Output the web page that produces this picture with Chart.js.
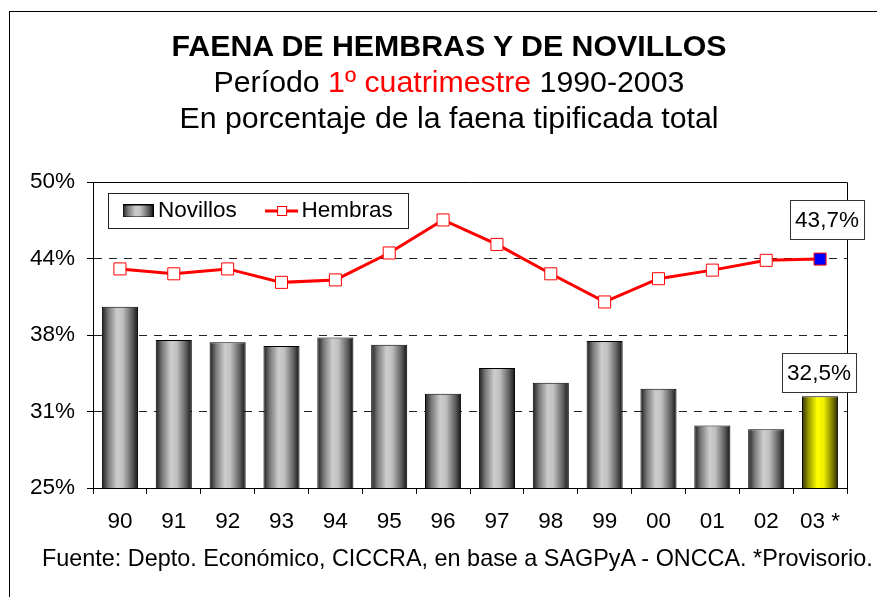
<!DOCTYPE html>
<html>
<head>
<meta charset="utf-8">
<script src="https://cdn.jsdelivr.net/npm/chart.js@4/dist/chart.umd.min.js"></script>
<style>
  body { margin: 0; background: #fff; }
  #wrap { position: relative; width: 877px; height: 597px; overflow: hidden; background: #fff;
          font-family: "Liberation Sans", Arial, sans-serif; color: #000; }
  #frame { position: absolute; left: 9px; top: 11px; width: 1000px; height: 1000px;
           border-left: 1px solid #000; border-top: 1px solid #000; }
  #chart { position: absolute; left: 0; top: 0; }
  #title { position: absolute; left: 0; top: 28px; width: 898px; text-align: center;
           font-size: 30.3px; line-height: 36px; white-space: nowrap; }
  #title b { font-weight: bold; }
  #title .red { color: #ff0000; }
  #footer { position: absolute; left: 42px; top: 545px; font-size: 23.4px; line-height: 27px; white-space: nowrap; }
</style>
</head>
<body>
<div id="wrap">
  <div id="frame"></div>
  <canvas id="chart" width="877" height="597"></canvas>
  <div id="title">
    <b>FAENA DE HEMBRAS Y DE NOVILLOS</b><br>
    Período <span class="red">1º cuatrimestre</span> 1990-2003<br>
    En porcentaje de la faena tipificada total
  </div>
  <div id="footer">Fuente: Depto. Económico, CICCRA, en base a SAGPyA - ONCCA. *Provisorio.</div>
</div>
<script>
// data
var categories = ['90', '91', '92', '93', '94', '95', '96', '97', '98', '99', '00', '01', '02', '03 *'];
var novillos = [39.8, 37.1, 36.9, 36.6, 37.3, 36.7, 32.7, 34.8, 33.6, 37.0, 33.1, 30.1, 29.8, 32.5];
var hembras = [42.9, 42.5, 42.9, 41.8, 42.0, 44.2, 46.9, 44.9, 42.5, 40.2, 42.1, 42.8, 43.6, 43.7];
var yTickValues = [25, 31.25, 37.5, 43.75, 50];

var FONT = '"Liberation Sans", Arial, sans-serif';
var BAR_PCT = 0.67;
var PLOT_TOP = 182;
var last = categories.length - 1;

function barGradient(ctx, x0, x1, yellow) {
    var g = ctx.createLinearGradient(x0, 0, x1, 0);
    if (yellow) {
        g.addColorStop(0, '#2e2e00');
        g.addColorStop(0.18, '#9a9a00');
        g.addColorStop(0.42, '#ffff00');
        g.addColorStop(0.6, '#f0f000');
        g.addColorStop(0.85, '#7a7a00');
        g.addColorStop(1, '#262600');
    } else {
        g.addColorStop(0, '#1c1c1c');
        g.addColorStop(0.18, '#7a7a7a');
        g.addColorStop(0.42, '#cdcdcd');
        g.addColorStop(0.58, '#c0c0c0');
        g.addColorStop(0.85, '#5a5a5a');
        g.addColorStop(1, '#111111');
    }
    return g;
}

// legend icons
var iconBar = document.createElement('canvas');
iconBar.width = 31; iconBar.height = 13;
(function () {
    var c = iconBar.getContext('2d');
    c.fillStyle = barGradient(c, 0, 31, false);
    c.fillRect(0, 0, 31, 13);
    c.strokeStyle = '#000';
    c.lineWidth = 1;
    c.strokeRect(0.5, 0.5, 30, 12);
})();
var iconLine = document.createElement('canvas');
iconLine.width = 33; iconLine.height = 12;
(function () {
    var c = iconLine.getContext('2d');
    c.strokeStyle = '#ff0000';
    c.lineWidth = 3;
    c.beginPath(); c.moveTo(0, 6); c.lineTo(33, 6); c.stroke();
    c.fillStyle = '#fff';
    c.fillRect(12, 1, 10, 10);
    c.lineWidth = 1;
    c.strokeRect(12.5, 1.5, 9, 9);
})();

var framePlugin = {
    id: 'frame',
    afterLayout: function (chart) {
        var ca = chart.chartArea, lg = chart.legend;
        if (lg) {
            // put the legend inside the plot, top left
            lg.left = ca.left + 0.3;
            lg.top = ca.top - 18.3;
            lg.right = ca.right;
            lg.bottom = lg.top + lg.height;
        }
    },
    beforeDatasetsDraw: function (chart) {
        var ctx = chart.ctx, ca = chart.chartArea;
        ctx.save();
        ctx.strokeStyle = '#000';
        ctx.lineWidth = 1;
        ctx.beginPath();
        ctx.moveTo(Math.round(ca.left), Math.round(ca.top) + 0.5);
        ctx.lineTo(Math.round(ca.right) + 0.5, Math.round(ca.top) + 0.5);
        ctx.lineTo(Math.round(ca.right) + 0.5, Math.round(ca.bottom));
        ctx.stroke();
        // legend frame
        ctx.strokeStyle = '#222';
        ctx.strokeRect(Math.round(ca.left + 15) + 0.5, Math.round(ca.top + 11) + 0.5, 300, 35);
        ctx.restore();
    },
    afterDatasetsDraw: function (chart) {
        var ctx = chart.ctx;
        ctx.save();
        ctx.font = '22.5px ' + FONT;
        ctx.textAlign = 'center';
        ctx.textBaseline = 'middle';
        chart.data.datasets.forEach(function (ds, i) {
            var el = chart.getDatasetMeta(i).data[last];
            var txt = ds.data[last].toFixed(1).replace('.', ',') + '%';
            var w = Math.round(ctx.measureText(txt).width + 10), h = 39;
            var cx, bottom;
            if (ds.type === 'line') { cx = el.x + 7; bottom = el.y - 20; }
            else { cx = el.x - 1; bottom = el.y - 4; }
            var x0 = Math.round(cx - w / 2), y0 = Math.round(bottom - h);
            ctx.fillStyle = '#fff';
            ctx.fillRect(x0, y0, w, h);
            ctx.strokeStyle = '#333';
            ctx.lineWidth = 1;
            ctx.strokeRect(x0 + 0.5, y0 + 0.5, w, h);
            ctx.fillStyle = '#000';
            ctx.fillText(txt, x0 + w / 2, y0 + h / 2 + 1);
        });
        ctx.restore();
    }
};

var chart = new Chart(document.getElementById('chart').getContext('2d'), {
    type: 'bar',
    data: {
        labels: categories,
        datasets: [{
            type: 'bar',
            label: 'Novillos',
            data: novillos,
            categoryPercentage: 1,
            barPercentage: BAR_PCT,
            borderColor: '#000',
            borderWidth: 1,
            borderSkipped: false,
            backgroundColor: function (c) {
                var xs = c.chart.scales.x;
                if (c.type !== 'data' || !xs) return '#999';
                var cx = xs.getPixelForValue(c.dataIndex);
                var w = xs.width / categories.length * BAR_PCT;
                return barGradient(c.chart.ctx, cx - w / 2, cx + w / 2, c.dataIndex === last);
            }
        }, {
            type: 'line',
            label: 'Hembras',
            data: hembras,
            borderColor: '#ff0000',
            borderWidth: 3,
            tension: 0,
            pointStyle: 'rect',
            pointRadius: 8.5,
            pointBorderWidth: 1,
            pointBorderColor: '#ff0000',
            pointBackgroundColor: function (c) { return c.dataIndex === last ? '#0000ff' : '#ffffff'; }
        }]
    },
    options: {
        responsive: false,
        animation: false,
        layout: { padding: { left: 0, top: 100, right: 30, bottom: 59 } },
        plugins: {
            tooltip: { enabled: false },
            legend: {
                position: 'top',
                align: 'start',
                labels: {
                    usePointStyle: true,
                    pointStyleWidth: 17.5,
                    padding: 36,
                    color: '#000',
                    font: { family: FONT, size: 22.5 },
                    generateLabels: function (ch) {
                        return ch.data.datasets.map(function (ds, i) {
                            return { text: ds.label, pointStyle: i === 0 ? iconBar : iconLine,
                                     datasetIndex: i, hidden: false, lineWidth: 0,
                                     fillStyle: 'transparent', strokeStyle: 'transparent' };
                        });
                    }
                }
            }
        },
        scales: {
            x: {
                afterFit: function (s) { s.height = 50; },
                grid: { offset: true, drawOnChartArea: false, drawTicks: true, tickLength: 6, color: '#000', tickColor: '#000' },
                border: { color: '#000', width: 1 },
                ticks: { color: '#000', padding: 14, font: { family: FONT, size: 22.5 }, maxRotation: 0, autoSkip: false }
            },
            y: {
                min: 25,
                max: 50,
                afterFit: function (s) { s.width = 93; },
                afterBuildTicks: function (s) { s.ticks = yTickValues.map(function (v) { return { value: v }; }); },
                grid: {
                    color: function (c) { return (c.tick && (c.tick.value === 25 || c.tick.value === 50)) ? 'rgba(0,0,0,0)' : '#222'; },
                    tickColor: '#000',
                    tickLength: 6,
                    lineWidth: 1
                },
                border: { color: '#000', width: 1, dash: [8, 7] },
                ticks: {
                    color: '#000',
                    padding: 12,
                    font: { family: FONT, size: 22.5 },
                    callback: function (v) { return Math.round(v) + '%'; }
                }
            }
        }
    },
    plugins: [framePlugin]
});

// the legend band takes room at the top; shift padding so the plot starts at PLOT_TOP
var pad = chart.options.layout.padding;
pad.top += PLOT_TOP - chart.chartArea.top;
chart.update();
</script>
</body>
</html>
